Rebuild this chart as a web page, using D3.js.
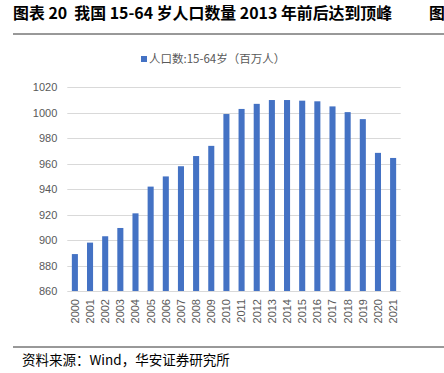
<!DOCTYPE html>
<html><head><meta charset="utf-8">
<script src="https://cdn.jsdelivr.net/npm/d3@7"></script>
<style>body{margin:0;background:#fff;} svg{display:block;} text{white-space:pre;}</style>
</head><body>
<svg id="c" width="444" height="373"></svg>
<script>
const years = ["2000","2001","2002","2003","2004","2005","2006","2007","2008","2009","2010","2011","2012","2013","2014","2015","2016","2017","2018","2019","2020","2021"];
const population = [889,898,903,909.5,921,942,950,958,966,974,999,1003,1007,1010,1010,1009.5,1009,1005,1000.5,995,968.5,964.5];
const yTicks = [860,880,900,920,940,960,980,1000,1020];
const titleText = "图表 20  我国 15-64 岁人口数量 2013 年前后达到顶峰";
const legendText = "人口数:15-64岁（百万人）";
const sourceText = "资料来源：Wind，华安证券研究所";

const svg = d3.select("#c");
const cjk = "'Noto Sans CJK SC', 'Noto Sans', sans-serif";
const num = "'Liberation Sans', Arial, sans-serif";

svg.append("text").attr("x",13).attr("y",19).attr("font-family",cjk).attr("font-weight","bold")
  .attr("font-size",15.9).attr("fill","#000").text(titleText);
svg.append("text").attr("x",429).attr("y",19).attr("font-family",cjk).attr("font-weight","bold")
  .attr("font-size",15.9).attr("fill","#000").text("图");
svg.append("line").attr("x1",13).attr("x2",444).attr("y1",34).attr("y2",34).attr("stroke","#333").attr("stroke-width",1);

const x = d3.scaleBand().domain(years).range([67.3,400.7]).paddingInner(0.6).paddingOuter(0.3);
const y = d3.scaleLinear().domain([860,1020]).range([291,87.3]);

// gridlines
svg.append("g").selectAll("line").data(yTicks.slice(1)).join("line")
  .attr("x1",67.3).attr("x2",400.7).attr("y1",d=>Math.round(y(d))+0.5).attr("y2",d=>Math.round(y(d))+0.5)
  .attr("stroke","#d9d9d9").attr("stroke-width",1);

// bars
svg.append("g").selectAll("rect").data(population).join("rect")
  .attr("x",(d,i)=>x(years[i])).attr("width",x.bandwidth())
  .attr("y",d=>y(d)).attr("height",d=>y(860)-y(d)).attr("fill","#4472C4");

// x axis line
svg.append("line").attr("x1",67.3).attr("x2",400.7).attr("y1",291.5).attr("y2",291.5).attr("stroke","#d9d9d9");

// y labels
const yAxis = d3.axisLeft(y).tickValues(yTicks).tickFormat(d3.format("d")).tickSize(0).tickPadding(10);
const gy = svg.append("g").attr("transform","translate(67.3,0)").call(yAxis);
gy.select(".domain").remove();
gy.selectAll("text").attr("font-family",num).attr("font-size",11).attr("fill","#595959");

// x labels
const xAxis = d3.axisBottom(x).tickSize(0);
const gx = svg.append("g").attr("transform","translate(0,291)").call(xAxis);
gx.select(".domain").remove();
gx.selectAll("text").attr("font-family",num).attr("font-size",11).attr("fill","#595959")
  .attr("transform","rotate(-90)").attr("text-anchor","end").attr("dy","0.35em").attr("x",-8).attr("y",0);

// legend
svg.append("rect").attr("x",141).attr("y",56).attr("width",6).attr("height",6).attr("fill","#4472C4");
svg.append("text").attr("x",149).attr("y",63).attr("font-family",cjk).attr("font-size",11.5).attr("fill","#595959").text(legendText);

// bottom
svg.append("line").attr("x1",13).attr("x2",444).attr("y1",347).attr("y2",347).attr("stroke","#333").attr("stroke-width",1);
svg.append("text").attr("x",22).attr("y",365).attr("font-family",cjk).attr("font-size",13.5).attr("fill","#000").text(sourceText);
</script>
</body></html>
